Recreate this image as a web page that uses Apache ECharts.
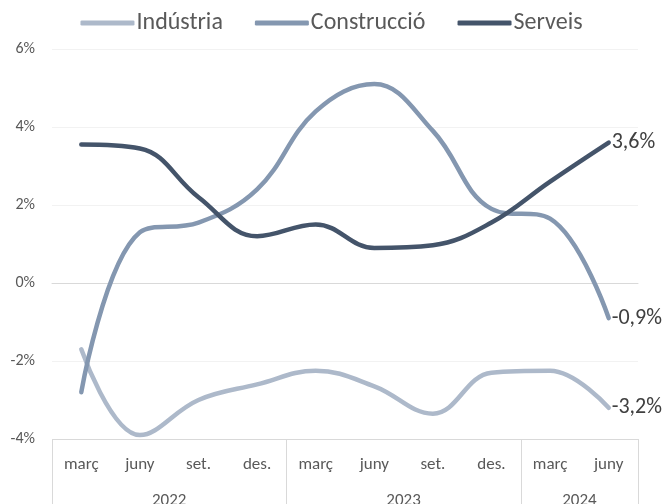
<!DOCTYPE html>
<html>
<head>
<meta charset="utf-8">
<script src="https://cdn.jsdelivr.net/npm/echarts@6/dist/echarts.min.js"></script>
<style>
  html, body { margin: 0; padding: 0; background: #fff; }
  #chart { width: 663px; height: 504px; }
</style>
</head>
<body>
<div id="chart"></div>
<script>
// trimestres
var months = ['març', 'juny', 'set.', 'des.', 'març', 'juny', 'set.', 'des.', 'març', 'juny'];
var years = ['2022', '2023', '2024'];
var yearCenters = [2, 6, 9];      // posició del rètol de l'any (en trimestres)
var yearBounds = [0, 4, 8, 10];   // separadors entre anys

var industria = [-1.7, -3.9, -3.0, -2.6, -2.25, -2.65, -3.35, -2.3, -2.25, -3.2];
var construccio = [-2.8, 1.3, 1.55, 2.4, 4.4, 5.1, 3.9, 1.9, 1.65, -0.9];
var serveis = [3.55, 3.45, 2.2, 1.2, 1.5, 0.9, 0.97, 1.55, 2.6, 3.6];

var FONT = "Carlito, 'Open Sans', sans-serif";

var chart = echarts.init(document.getElementById('chart'));

function lineSerie(name, data, color) {
  return {
    name: name,
    type: 'line',
    data: data,
    smooth: 0.4,
    symbol: 'none',
    xAxisIndex: 0,
    lineStyle: { color: color, width: 4.5, cap: 'round' },
    itemStyle: { color: color },
    endLabel: {
      show: true,
      distance: 3,
      color: '#404040',
      fontFamily: FONT,
      fontSize: 22,
      formatter: function (p) {
        return p.value.toFixed(1).replace('.', ',') + '%';
      }
    }
  };
}

var option = {
  animation: false,
  textStyle: { fontFamily: FONT },
  legend: {
    top: 6,
    left: 'center',
    icon: 'roundRect',
    itemWidth: 54,
    itemHeight: 5,
    itemGap: 32,
    textStyle: { fontSize: 24, color: '#595959', fontFamily: FONT, padding: [0, 0, 0, -3] },
    data: ['Indústria', 'Construcció', 'Serveis']
  },
  grid: { left: 52, right: 25, top: 49, bottom: 65, outerBoundsMode: 'none', containLabel: false },
  xAxis: [{
    type: 'category',
    data: months,
    boundaryGap: true,
    axisLine: { show: true, lineStyle: { color: '#d9d9d9' } },
    axisTick: { show: false },
    axisLabel: { color: '#595959', fontSize: 17, margin: 17, fontFamily: FONT }
  }, {
    type: 'value',
    min: 0,
    max: 10,
    position: 'bottom',
    axisLine: { show: false },
    splitLine: { show: false },
    axisTick: {
      show: true,
      customValues: yearBounds,
      length: 70,
      lineStyle: { color: '#d9d9d9' }
    },
    axisLabel: {
      customValues: yearCenters,
      margin: 53,
      color: '#595959',
      fontSize: 17,
      fontFamily: FONT,
      formatter: function (v) {
        return years[yearCenters.indexOf(v)];
      }
    }
  }],
  yAxis: {
    type: 'value',
    min: -4,
    max: 6,
    interval: 2,
    axisLine: { show: false },
    axisTick: { show: false },
    axisLabel: {
      color: '#595959',
      fontSize: 16,
      margin: 17,
      fontFamily: FONT,
      formatter: '{value}%'
    },
    splitLine: {
      lineStyle: { color: ['#d9d9d9', '#f2f2f2', '#d9d9d9', '#f2f2f2', '#f2f2f2', '#f2f2f2'] }
    }
  },
  series: [
    lineSerie('Indústria', industria, '#adb9ca'),
    lineSerie('Construcció', construccio, '#8497b0'),
    lineSerie('Serveis', serveis, '#44546a')
  ]
};

chart.setOption(option);
</script>
</body>
</html>
